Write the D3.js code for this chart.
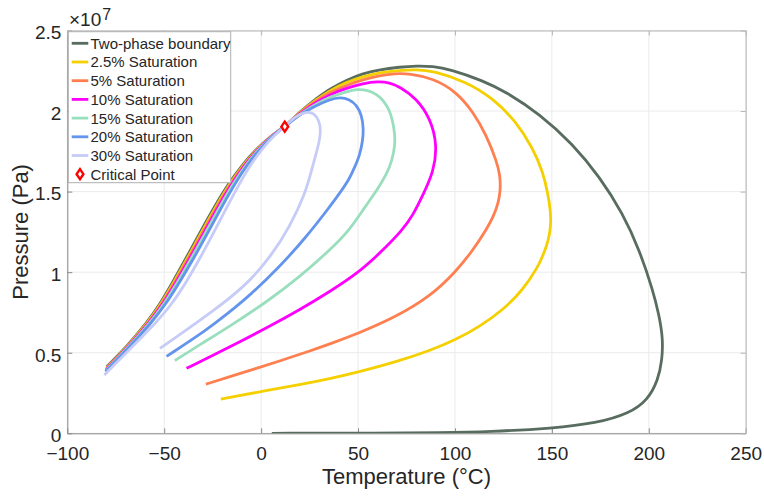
<!DOCTYPE html>
<html>
<head>
<meta charset="utf-8">
<script src="https://cdn.jsdelivr.net/npm/d3@7"></script>
<style>
  html, body { margin: 0; padding: 0; background: #ffffff; }
  svg { display: block; }
  text { font-family: "Liberation Sans", Arial, Helvetica, sans-serif; fill: #262626; }
</style>
</head>
<body>
<svg id="chart" width="764" height="496"></svg>
<script>
// Temperature (°C) and pressure (×10^7 Pa) pairs
const boundary = [
  [-79.7,0.413],[-69.4,0.537],[-59.1,0.683],[-52.2,0.802],[-45.4,0.943],[-38.5,1.092],[-31.6,1.245],
  [-24.4,1.401],[-16.6,1.554],[-9.4,1.672],[-2.2,1.767],[5.0,1.845],[12.2,1.903],
  [19.9,1.994],[27.7,2.071],[35.4,2.137],[44.0,2.192],[52.6,2.233],[61.2,2.258],[71.5,2.273],
  [80.1,2.281],[88.5,2.278],[97.3,2.260],[114.4,2.189],[126.5,2.118],[143.7,1.981],[160.8,1.795],
  [174.6,1.592],[186.6,1.365],[195.2,1.137],[202.1,0.889],[205.3,0.734],[207.3,0.591],[206.9,0.455],
  [204.8,0.331],[199.5,0.207],[190.1,0.124],[172.9,0.062],[150.5,0.031],[117.9,0.010],[92.1,0.004],
  [61.2,0.001],[5.5,0.0]
];
const sat2_5 = [
  [-79.8,0.405],[-69.1,0.537],[-58.7,0.683],[-51.7,0.802],[-44.8,0.943],[-37.8,1.092],[-30.9,1.245],
  [-23.7,1.401],[-16.0,1.554],[-8.9,1.672],[-1.8,1.767],[5.2,1.845],[12.2,1.903],
  [19.9,1.991],[27.7,2.065],[35.4,2.127],[44.0,2.180],[52.6,2.214],[61.2,2.239],[71.5,2.253],
  [80.1,2.258],[88.7,2.250],[105.9,2.182],[119.6,2.079],[131.6,1.934],[140.2,1.769],[145.4,1.623],
  [148.1,1.479],[149.2,1.386],[149.5,1.312],[148.9,1.237],[147.3,1.163],[144.8,1.088],[142.8,1.034],
  [135.1,0.889],[124.7,0.765],[112.7,0.662],[100.2,0.579],[87.0,0.513],[69.8,0.444],[50.4,0.381],
  [35.4,0.339],[19.9,0.302],[-0.7,0.258],[-20.8,0.212]
];
const sat5 = [
  [-79.9,0.400],[-68.9,0.537],[-58.3,0.683],[-51.2,0.802],[-44.2,0.943],[-37.2,1.092],[-30.2,1.245],
  [-23.1,1.401],[-15.5,1.554],[-8.5,1.672],[-1.6,1.767],[5.3,1.845],[12.2,1.903],
  [19.9,1.988],[27.7,2.059],[35.4,2.115],[44.0,2.161],[52.6,2.195],[61.2,2.220],[68.9,2.233],
  [76.6,2.232],[88.7,2.203],[100.7,2.120],[109.3,1.996],[116.2,1.851],[121.6,1.685],[123.3,1.60],
  [123.5,1.51],[122.4,1.43],[120.0,1.349],[116.1,1.262],[109.3,1.137],[100.2,0.999],[87.0,0.848],
  [69.8,0.724],[50.4,0.621],[35.4,0.554],[25.1,0.511],[12.2,0.459],[-0.7,0.410],[-14.4,0.358],
  [-28.5,0.305]
];
const sat10 = [
  [-80.0,0.395],[-68.6,0.537],[-57.9,0.683],[-50.7,0.802],[-43.6,0.943],[-36.5,1.092],[-29.5,1.245],
  [-22.4,1.401],[-14.9,1.554],[-8.1,1.672],[-1.3,1.767],[5.4,1.845],[12.2,1.903],
  [19.9,1.985],[27.7,2.050],[35.4,2.102],[44.0,2.143],[52.6,2.171],[60.2,2.184],[66.3,2.177],
  [71.5,2.151],[80.1,2.079],[87.3,1.955],[90.9,1.789],[89.0,1.623],[83.5,1.479],[78.4,1.355],
  [73.0,1.262],[61.2,1.117],[50.4,0.999],[35.4,0.879],[19.9,0.767],[4.5,0.665],[-11.0,0.568],
  [-26.4,0.475],[-38.5,0.403]
];
const sat15 = [
  [-80.1,0.390],[-68.3,0.537],[-57.5,0.683],[-50.1,0.802],[-42.9,0.943],[-35.7,1.092],[-28.7,1.245],
  [-21.6,1.401],[-14.2,1.554],[-7.6,1.672],[-1.0,1.767],[5.6,1.845],[12.2,1.903],
  [19.9,1.981],[27.7,2.040],[35.4,2.087],[44.0,2.121],[49.8,2.137],[55.0,2.129],[59.6,2.105],
  [63.2,2.065],[66.1,2.009],[67.9,1.938],[69.0,1.857],[69.0,1.783],[67.6,1.696],[64.8,1.609],
  [60.2,1.516],[53.5,1.404],[45.7,1.262],[35.4,1.137],[19.9,0.970],[2.8,0.815],[-14.4,0.678],
  [-31.6,0.550],[-44.5,0.452]
];
const sat20 = [
  [-80.3,0.383],[-67.8,0.537],[-56.8,0.683],[-49.2,0.802],[-41.8,0.943],[-34.5,1.092],[-27.5,1.245],
  [-20.5,1.401],[-13.3,1.554],[-6.9,1.672],[-0.5,1.767],[5.8,1.845],[12.2,1.903],
  [19.9,1.978],[27.7,2.031],[35.4,2.071],[40.6,2.087],[45.7,2.073],[49.3,2.037],[51.9,1.975],
  [52.8,1.895],[52.5,1.820],[50.9,1.727],[48.3,1.653],[45.7,1.582],[40.6,1.491],[35.4,1.406],
  [23.4,1.220],[9.6,1.034],[-5.8,0.856],[-17.2,0.744],[-28.1,0.641],[-48.8,0.477]
];
const sat30 = [
  [-80.9,0.362],[-66.5,0.537],[-54.5,0.683],[-46.0,0.802],[-38.4,0.943],[-31.3,1.092],[-24.5,1.245],
  [-17.8,1.401],[-11.0,1.554],[-5.2,1.672],[0.6,1.767],[6.4,1.845],[12.2,1.903],
  [17.4,1.966],[23.3,1.997],[27.4,1.987],[30.0,1.938],[30.8,1.882],[30.0,1.808],[27.9,1.715],
  [25.6,1.615],[22.8,1.489],[14.8,1.282],[5.0,1.096],[-8.4,0.910],[-26.4,0.745],[-40.9,0.621],
  [-52.2,0.527]
];
const criticalPoint = [12.2, 1.903];

const seriesNames = ["Two-phase boundary","2.5% Saturation","5% Saturation","10% Saturation",
                     "15% Saturation","20% Saturation","30% Saturation"];
const seriesColors = ["#586d5f","#f5d000","#ff7f50","#ff00ff","#99dfbe","#6495ed","#c6cbf7"];
const seriesData = [boundary, sat2_5, sat5, sat10, sat15, sat20, sat30];
const criticalLabel = "Critical Point";

const tempTicks = [-100,-50,0,50,100,150,200,250];
const pressTicks = [0,0.5,1,1.5,2,2.5];
const xLabel = "Temperature (°C)";
const yLabel = "Pressure (Pa)";

// ---- layout
const svg = d3.select("#chart");
const pL = 67.3, pR = 745.7, pT = 30.5, pB = 433.3;
const x = d3.scaleLinear().domain([-100, 250]).range([pL, pR]);
const y = d3.scaleLinear().domain([0, 2.5]).range([pB, pT]);

// grid
const grid = svg.append("g");
grid.selectAll("line.gx").data(tempTicks).join("line")
  .attr("x1", d => x(d)).attr("x2", d => x(d)).attr("y1", pT).attr("y2", pB)
  .attr("stroke", "#ebebeb").attr("stroke-width", 1);
grid.selectAll("line.gy").data(pressTicks).join("line")
  .attr("x1", pL).attr("x2", pR).attr("y1", d => y(d)).attr("y2", d => y(d))
  .attr("stroke", "#ebebeb").attr("stroke-width", 1);

// clip
svg.append("defs").append("clipPath").attr("id", "clip")
  .append("rect").attr("x", pL).attr("y", pT).attr("width", pR - pL).attr("height", pB - pT);

// axes (MATLAB style: ticks inward, box)
const tickLen = 5;
const xAxis = d3.axisBottom(x).tickValues(tempTicks).tickSizeInner(-tickLen).tickSizeOuter(0);
const yAxis = d3.axisLeft(y).tickValues(pressTicks).tickSizeInner(-tickLen).tickSizeOuter(0).tickPadding(6)
  .tickFormat(d => d3.format("")(d));
const gx = svg.append("g").attr("transform", `translate(0,${pB})`).call(xAxis);
const gy = svg.append("g").attr("transform", `translate(${pL},0)`).call(yAxis);
const gxTop = svg.append("g").attr("transform", `translate(0,${pT})`)
  .call(d3.axisTop(x).tickValues(tempTicks).tickSizeInner(-tickLen).tickSizeOuter(0).tickFormat(""));
const gyRight = svg.append("g").attr("transform", `translate(${pR},0)`)
  .call(d3.axisRight(y).tickValues(pressTicks).tickSizeInner(-tickLen).tickSizeOuter(0).tickFormat(""));
[gx, gy].forEach(g => {
  g.select(".domain").attr("stroke", "#8a8a8a");
  g.selectAll(".tick line").attr("stroke", "#8a8a8a");
  g.selectAll(".tick text").attr("font-size", 19).attr("fill", "#262626")
    .attr("font-family", '"Liberation Sans", Arial, sans-serif');
});
[gxTop, gyRight].forEach(g => {
  g.select(".domain").attr("stroke", "#b5b5b5");
  g.selectAll(".tick line").attr("stroke", "#b5b5b5");
});
gx.selectAll(".tick text").attr("dy", null).attr("y", 27);
gy.selectAll(".tick text").attr("dy", "0.44em");

// exponent label
const expo = svg.append("text").attr("x", 69).attr("y", 26).attr("font-size", 19);
expo.append("tspan").text("×10");
expo.append("tspan").attr("font-size", 16).attr("dx", 1).attr("dy", -6).text("7");

// axis labels
svg.append("text").attr("x", (pL + pR) / 2).attr("y", 484).attr("text-anchor", "middle")
  .attr("font-size", 22).text(xLabel);
svg.append("text").attr("transform", `translate(28,${(pT + pB) / 2}) rotate(-90)`)
  .attr("text-anchor", "middle").attr("font-size", 22).text(yLabel);

// curves (smoothing B-spline through the read points)
const line = d3.line().x(d => x(d[0])).y(d => y(d[1])).curve(d3.curveBasis);
const plot = svg.append("g").attr("clip-path", "url(#clip)");
plot.selectAll("path.series").data(seriesData).join("path")
  .attr("class", "series")
  .attr("d", d => line(d))
  .attr("fill", "none")
  .attr("stroke", (d, i) => seriesColors[i])
  .attr("stroke-width", 2.8)
  .attr("stroke-linejoin", "round")
  .attr("stroke-linecap", "butt");

// critical point marker
function diamond(g, cx, cy) {
  g.append("path")
    .attr("d", `M${cx},${cy - 5} L${cx + 3.4},${cy} L${cx},${cy + 5} L${cx - 3.4},${cy} Z`)
    .attr("fill", "#ffffff").attr("stroke", "#ff0000").attr("stroke-width", 2.4);
}
diamond(svg, x(criticalPoint[0]), y(criticalPoint[1]));

// legend
const lg = svg.append("g");
const lgX = 68.3, lgY = 31.7, lgW = 162.4, lgH = 151;
lg.append("rect").attr("x", lgX).attr("y", lgY).attr("width", lgW).attr("height", lgH)
  .attr("fill", "#ffffff").attr("stroke", "#b0b0b0").attr("stroke-width", 1);
const rowY = i => 43.3 + i * 18.7;
seriesNames.forEach((name, i) => {
  lg.append("line").attr("x1", 71.7).attr("x2", 88.3).attr("y1", rowY(i)).attr("y2", rowY(i))
    .attr("stroke", seriesColors[i]).attr("stroke-width", 2.8);
  lg.append("text").attr("x", 90.5).attr("y", rowY(i) + 5.4).attr("font-size", 15).text(name);
});
diamond(lg, 80, rowY(7));
lg.append("text").attr("x", 90.5).attr("y", rowY(7) + 5.4).attr("font-size", 15).text(criticalLabel);
</script>
</body>
</html>
